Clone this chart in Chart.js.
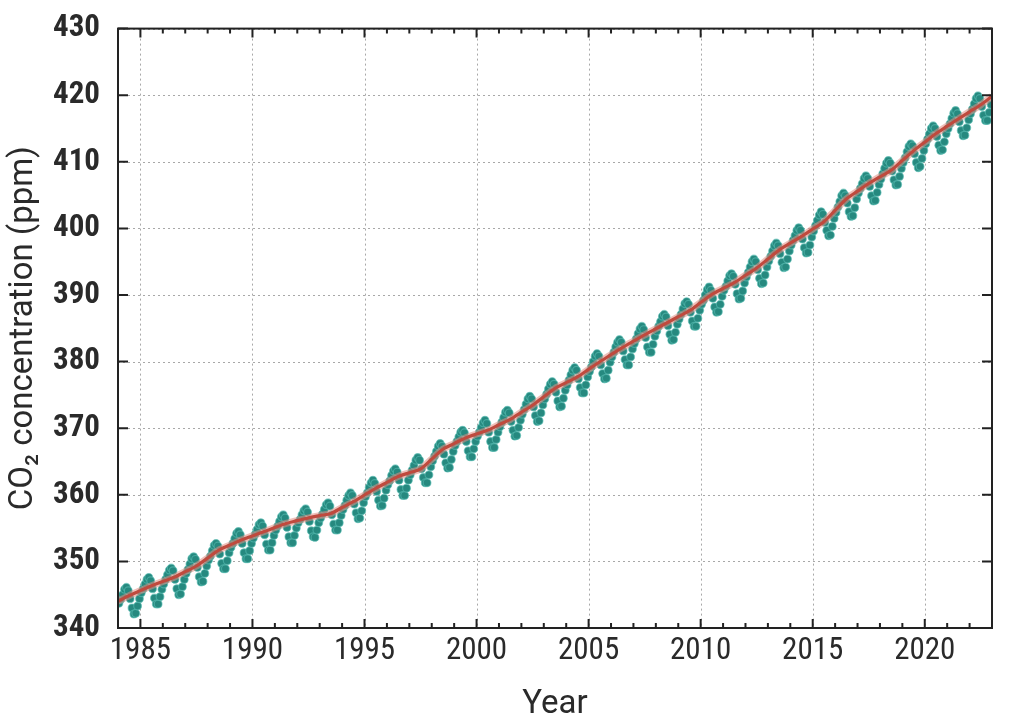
<!DOCTYPE html>
<html>
<head>
<meta charset="utf-8">
<script src="https://cdn.jsdelivr.net/npm/chart.js@4"></script>
<style>
  html, body { margin: 0; padding: 0; background: #fff; }
  #wrap { width: 1024px; height: 720px; }
</style>
</head>
<body>
<div id="wrap"><canvas id="myChart" width="1024" height="720"></canvas></div>
<script>
// Monthly CO2 means (ppm), Jan 1984 .. Dec 2022, one row per year
var startYear = 1984;
var co2Monthly = [
    343.7, 344.3, 345.0, 345.8, 346.1, 345.6, 344.4, 343.0, 342.1, 342.2, 343.3, 344.4, // 1984
    345.3, 345.9, 346.6, 347.3, 347.6, 347.1, 345.9, 344.5, 343.6, 343.6, 344.7, 345.8, // 1985
    346.6, 347.3, 348.0, 348.7, 349.0, 348.6, 347.3, 345.9, 345.0, 345.1, 346.2, 347.3, // 1986
    348.2, 348.8, 349.6, 350.4, 350.7, 350.3, 349.1, 347.7, 346.9, 347.0, 348.2, 349.3, // 1987
    350.2, 350.8, 351.6, 352.4, 352.7, 352.3, 351.1, 349.7, 348.9, 348.9, 350.1, 351.3, // 1988
    352.1, 352.7, 353.4, 354.2, 354.5, 354.0, 352.7, 351.3, 350.4, 350.4, 351.6, 352.7, // 1989
    353.5, 354.1, 354.8, 355.5, 355.8, 355.3, 354.0, 352.6, 351.7, 351.7, 352.8, 353.9, // 1990
    354.7, 355.3, 356.0, 356.7, 357.0, 356.5, 355.1, 353.7, 352.8, 352.8, 353.9, 355.0, // 1991
    355.8, 356.3, 357.0, 357.6, 357.9, 357.4, 356.0, 354.6, 353.7, 353.6, 354.7, 355.8, // 1992
    356.5, 357.1, 357.8, 358.5, 358.8, 358.3, 357.0, 355.6, 354.7, 354.7, 355.8, 356.9, // 1993
    357.8, 358.4, 359.2, 359.9, 360.3, 359.9, 358.6, 357.3, 356.4, 356.5, 357.6, 358.8, // 1994
    359.7, 360.3, 361.1, 361.8, 362.2, 361.7, 360.5, 359.2, 358.3, 358.4, 359.5, 360.7, // 1995
    361.5, 362.1, 362.9, 363.6, 363.9, 363.4, 362.2, 360.8, 359.9, 359.9, 361.0, 362.2, // 1996
    363.0, 363.7, 364.4, 365.2, 365.6, 365.2, 363.9, 362.6, 361.8, 361.8, 363.0, 364.2, // 1997
    365.1, 365.8, 366.5, 367.3, 367.7, 367.3, 366.1, 364.8, 364.0, 364.1, 365.3, 366.5, // 1998
    367.4, 368.0, 368.7, 369.4, 369.7, 369.3, 368.0, 366.6, 365.7, 365.7, 366.9, 368.0, // 1999
    368.8, 369.4, 370.1, 370.8, 371.2, 370.7, 369.4, 368.0, 367.1, 367.1, 368.3, 369.4, // 2000
    370.2, 370.9, 371.6, 372.4, 372.7, 372.3, 371.0, 369.7, 368.8, 368.9, 370.1, 371.2, // 2001
    372.1, 372.8, 373.6, 374.4, 374.8, 374.4, 373.2, 371.9, 371.0, 371.1, 372.3, 373.5, // 2002
    374.4, 375.1, 375.9, 376.6, 377.0, 376.6, 375.4, 374.1, 373.2, 373.3, 374.5, 375.7, // 2003
    376.5, 377.2, 378.0, 378.7, 379.1, 378.7, 377.4, 376.1, 375.3, 375.3, 376.5, 377.7, // 2004
    378.5, 379.2, 380.0, 380.8, 381.2, 380.8, 379.5, 378.2, 377.4, 377.5, 378.7, 379.9, // 2005
    380.7, 381.4, 382.2, 382.9, 383.3, 382.9, 381.6, 380.3, 379.5, 379.5, 380.7, 381.9, // 2006
    382.7, 383.4, 384.2, 384.9, 385.3, 384.8, 383.6, 382.2, 381.4, 381.4, 382.6, 383.8, // 2007
    384.6, 385.3, 386.0, 386.8, 387.1, 386.7, 385.4, 384.1, 383.2, 383.3, 384.4, 385.6, // 2008
    386.4, 387.1, 387.9, 388.7, 389.0, 388.6, 387.4, 386.1, 385.3, 385.3, 386.5, 387.7, // 2009
    388.6, 389.2, 390.0, 390.8, 391.2, 390.7, 389.5, 388.2, 387.4, 387.5, 388.6, 389.8, // 2010
    390.7, 391.3, 392.1, 392.9, 393.2, 392.8, 391.6, 390.2, 389.4, 389.5, 390.6, 391.8, // 2011
    392.7, 393.4, 394.2, 395.0, 395.4, 395.0, 393.8, 392.5, 391.7, 391.8, 393.0, 394.2, // 2012
    395.1, 395.8, 396.6, 397.4, 397.8, 397.4, 396.2, 394.9, 394.1, 394.2, 395.4, 396.6, // 2013
    397.5, 398.2, 398.9, 399.7, 400.1, 399.7, 398.4, 397.1, 396.3, 396.4, 397.5, 398.7, // 2014
    399.6, 400.4, 401.2, 402.0, 402.5, 402.1, 400.9, 399.7, 398.9, 399.0, 400.3, 401.5, // 2015
    402.4, 403.2, 404.0, 404.9, 405.3, 404.9, 403.8, 402.5, 401.8, 401.9, 403.1, 404.4, // 2016
    405.3, 406.0, 406.7, 407.5, 407.9, 407.5, 406.3, 404.9, 404.1, 404.2, 405.4, 406.6, // 2017
    407.4, 408.2, 409.0, 409.8, 410.2, 409.8, 408.6, 407.3, 406.5, 406.6, 407.8, 409.0, // 2018
    409.9, 410.6, 411.5, 412.3, 412.7, 412.4, 411.2, 409.9, 409.1, 409.3, 410.5, 411.7, // 2019
    412.7, 413.4, 414.2, 415.0, 415.4, 415.0, 413.8, 412.5, 411.7, 411.8, 413.0, 414.2, // 2020
    415.0, 415.7, 416.5, 417.3, 417.7, 417.2, 416.0, 414.7, 413.9, 414.0, 415.1, 416.3, // 2021
    417.2, 417.9, 418.7, 419.5, 419.9, 419.5, 418.3, 417.0, 416.2, 416.2, 417.4, 418.6  // 2022
];

// Seasonally adjusted trend (ppm), every half year from 1984.0 to 2023.0
var co2Trend = [
    344.01, 344.87, 345.61, 346.35, 346.98, 347.61, 348.46, 349.31, 350.50, 351.69,
    352.45, 353.20, 353.83, 354.45, 355.08, 355.70, 356.12, 356.54, 356.88, 357.21,
    358.09, 358.96, 359.97, 360.97, 361.86, 362.74, 363.31, 363.88, 365.36, 366.84,
    367.69, 368.54, 369.13, 369.71, 370.52, 371.32, 372.39, 373.45, 374.72, 375.98,
    376.84, 377.70, 378.84, 379.98, 381.04, 382.09, 383.06, 384.02, 384.93, 385.83,
    386.74, 387.64, 388.87, 390.10, 390.98, 391.85, 392.96, 394.06, 395.40, 396.74,
    397.78, 398.81, 399.91, 401.01, 402.71, 404.41, 405.59, 406.76, 407.74, 408.72,
    410.19, 411.66, 412.95, 414.24, 415.35, 416.45, 417.51, 418.56, 419.82
];

var yearTicks = [1985, 1990, 1995, 2000, 2005, 2010, 2015, 2020];
var ppmTicks = [340, 350, 360, 370, 380, 390, 400, 410, 420, 430];
var xMin = 1984, xMax = 2023;

var monthlyPoints = co2Monthly.map(function (v, i) {
    return { x: startYear + (i + 0.5) / 12, y: v };
});
var trendPoints = co2Trend.map(function (v, i) {
    return { x: startYear + i * 0.5, y: v };
});

// frame, inward ticks and dotted grid, drawn from the scales
var framePlugin = {
    id: 'frame',
    beforeDatasetsDraw: function (chart) {
        var c = chart.ctx, a = chart.chartArea;
        var xs = chart.scales.x, ys = chart.scales.y;
        c.save();
        c.strokeStyle = '#a8a8a8';
        c.lineWidth = 1;
        c.setLineDash([2, 3]);
        yearTicks.forEach(function (t) {
            var px = Math.round(xs.getPixelForValue(t)) + 0.5;
            c.beginPath(); c.moveTo(px, a.top); c.lineTo(px, a.bottom); c.stroke();
        });
        ppmTicks.forEach(function (t) {
            var py = Math.round(ys.getPixelForValue(t)) + 0.5;
            c.beginPath(); c.moveTo(a.left, py); c.lineTo(a.right, py); c.stroke();
        });
        c.restore();
    },
    afterDatasetsDraw: function (chart) {
        var c = chart.ctx, a = chart.chartArea;
        var xs = chart.scales.x, ys = chart.scales.y;
        c.save();
        c.strokeStyle = '#222';
        c.lineWidth = 2;
        c.strokeRect(a.left, a.top, a.right - a.left, a.bottom - a.top);
        for (var yr = xMin + 1; yr < xMax; yr++) {
            var px = xs.getPixelForValue(yr);
            var len = yr % 5 === 0 ? 9 : 5;
            c.beginPath();
            c.moveTo(px, a.bottom); c.lineTo(px, a.bottom - len);
            c.moveTo(px, a.top); c.lineTo(px, a.top + len);
            c.stroke();
        }
        ppmTicks.forEach(function (t) {
            var py = ys.getPixelForValue(t);
            c.beginPath();
            c.moveTo(a.left, py); c.lineTo(a.left + 10, py);
            c.moveTo(a.right, py); c.lineTo(a.right - 10, py);
            c.stroke();
        });
        c.restore();
    }
};

var tickFamily = "'Liberation Sans Narrow', 'Roboto Condensed', Roboto, sans-serif";

var ctx = document.getElementById('myChart').getContext('2d');
var myChart = new Chart(ctx, {
    type: 'scatter',
    data: {
        datasets: [{
            label: 'Monthly',
            data: monthlyPoints,
            showLine: false,
            pointRadius: 3.9,
            pointBackgroundColor: '#26897f',
            pointBorderColor: 'rgba(90,190,180,0.6)',
            pointBorderWidth: 1.2,
            order: 3
        }, {
            label: 'Trend glow',
            data: trendPoints,
            showLine: true,
            pointRadius: 0,
            borderColor: 'rgba(225,140,130,0.55)',
            borderWidth: 7,
            tension: 0.3,
            order: 2
        }, {
            label: 'Trend',
            data: trendPoints,
            showLine: true,
            pointRadius: 0,
            borderColor: '#bf4a3e',
            borderWidth: 3.2,
            tension: 0.3,
            order: 1
        }]
    },
    options: {
        responsive: false,
        animation: false,
        layout: { padding: { top: 15, right: 32, left: 0, bottom: 0 } },
        plugins: {
            legend: { display: false },
            tooltip: { enabled: false }
        },
        scales: {
            x: {
                type: 'linear',
                min: xMin,
                max: xMax,
                afterBuildTicks: function (scale) {
                    scale.ticks = yearTicks.map(function (v) { return { value: v }; });
                },
                afterFit: function (scale) { scale.height = 92; },
                grid: { display: false },
                border: { display: false },
                ticks: {
                    color: '#2a2a2a',
                    font: { family: tickFamily, size: 31 },
                    padding: -3,
                    maxRotation: 0,
                    callback: function (v) { return String(v); }
                },
                title: {
                    display: true,
                    text: 'Year',
                    color: '#2a2a2a',
                    font: { family: "Roboto, 'Liberation Sans', sans-serif", size: 33 },
                    padding: { top: 0, bottom: -5 }
                }
            },
            y: {
                type: 'linear',
                min: 340,
                max: 430,
                afterBuildTicks: function (scale) {
                    scale.ticks = ppmTicks.map(function (v) { return { value: v }; });
                },
                afterFit: function (scale) { scale.width = 118; },
                grid: { display: false },
                border: { display: false },
                ticks: {
                    color: '#2a2a2a',
                    font: { family: tickFamily, size: 31, weight: 'bold' },
                    padding: 10
                },
                title: {
                    display: true,
                    text: 'CO\u2082 concentration (ppm)',
                    color: '#2a2a2a',
                    font: { family: "Roboto, 'Liberation Sans', sans-serif", size: 33 },
                    padding: { bottom: 0 }
                }
            }
        }
    },
    plugins: [framePlugin]
});
</script>
</body>
</html>
